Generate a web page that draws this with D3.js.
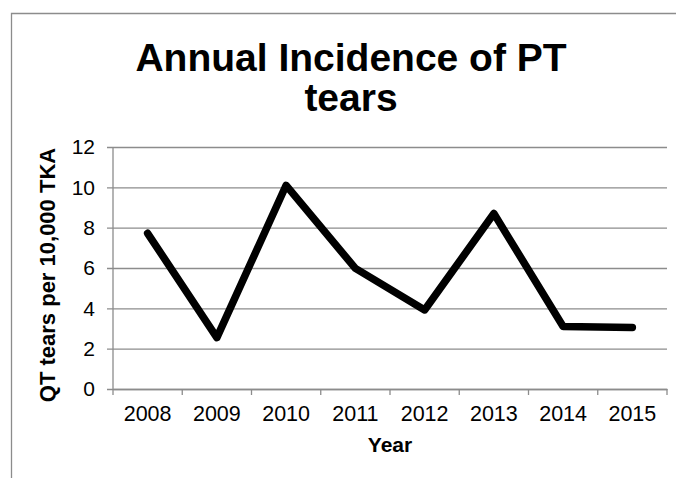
<!DOCTYPE html>
<html>
<head>
<meta charset="utf-8">
<script src="https://cdn.jsdelivr.net/npm/d3@7"></script>
<style>
  html, body { margin: 0; padding: 0; background: #fff; }
  svg { display: block; font-family: "Liberation Sans", Arial, sans-serif; }
</style>
</head>
<body>
<svg id="chart" width="676" height="478"></svg>
<script>
const years = ["2008", "2009", "2010", "2011", "2012", "2013", "2014", "2015"];
const values = [7.72, 2.55, 10.1, 5.98, 3.92, 8.7, 3.1, 3.05];
const yTicks = [0, 2, 4, 6, 8, 10, 12];
const titleLines = ["Annual Incidence of PT", "tears"];
const yLabel = "QT tears per 10,000 TKA";
const xLabel = "Year";

const svg = d3.select("#chart");
const plot = { left: 113, right: 667, top: 147, bottom: 389 };

// outer chart border (top and left visible)
svg.append("path")
  .attr("d", "M11.5,480 L11.5,13.5 L680,13.5")
  .attr("fill", "none").attr("stroke", "#8c8c8c").attr("stroke-width", 1.3);

const x = d3.scaleBand().domain(years).range([plot.left, plot.right]).padding(0);
const y = d3.scaleLinear().domain([0, 12]).range([plot.bottom, plot.top]);

// gridlines + y axis
const yAxis = d3.axisLeft(y).tickValues(yTicks).tickSize(-(plot.right - plot.left)).tickSizeOuter(0).tickPadding(12);
const gy = svg.append("g").attr("transform", `translate(${plot.left},0)`).call(yAxis);
gy.select(".domain").remove();
gy.selectAll(".tick line").attr("stroke", "#8c8c8c").attr("stroke-width", 1.3).attr("x1", -6);
gy.selectAll(".tick text").attr("font-size", 21).attr("fill", "#000")
  .attr("font-family", "'Liberation Sans', Arial, sans-serif").attr("x", -18);

// y axis line
svg.append("line").attr("x1", plot.left).attr("x2", plot.left)
  .attr("y1", plot.top).attr("y2", plot.bottom)
  .attr("stroke", "#8c8c8c").attr("stroke-width", 1.3);

// x axis
const xAxis = d3.axisBottom(x).tickSize(0).tickPadding(17);
const gx = svg.append("g").attr("transform", `translate(0,${plot.bottom})`).call(xAxis);
gx.select(".domain").attr("stroke", "#8c8c8c").attr("stroke-width", 1.3);
gx.selectAll(".tick text").attr("font-size", 21.5).attr("fill", "#000")
  .attr("font-family", "'Liberation Sans', Arial, sans-serif");
// category boundary ticks
const bounds = years.map(d => x(d)).concat([x(years[years.length - 1]) + x.bandwidth()]);
svg.append("g").selectAll("line").data(bounds).join("line")
  .attr("x1", d => d).attr("x2", d => d)
  .attr("y1", plot.bottom).attr("y2", plot.bottom + 6)
  .attr("stroke", "#8c8c8c").attr("stroke-width", 1.3);

// data line
const line = d3.line()
  .x((d, i) => x(years[i]) + x.bandwidth() / 2)
  .y(d => y(d));
svg.append("path").datum(values)
  .attr("d", line)
  .attr("fill", "none").attr("stroke", "#000").attr("stroke-width", 7.5)
  .attr("stroke-linejoin", "round").attr("stroke-linecap", "round");

// title
const title = svg.append("text").attr("text-anchor", "middle")
  .attr("font-size", 39).attr("font-weight", "bold").attr("fill", "#000");
titleLines.forEach((t, i) => {
  title.append("tspan").attr("x", 351).attr("y", 71 + i * 40).text(t);
});

// y label
svg.append("text")
  .attr("transform", `translate(55,${(plot.top + plot.bottom) / 2 + 7}) rotate(-90)`)
  .attr("text-anchor", "middle").attr("font-size", 22).attr("font-weight", "bold")
  .attr("fill", "#000").text(yLabel);

// x label
svg.append("text")
  .attr("x", (plot.left + plot.right) / 2).attr("y", 452)
  .attr("text-anchor", "middle").attr("font-size", 21).attr("font-weight", "bold")
  .attr("fill", "#000").text(xLabel);
</script>
</body>
</html>
